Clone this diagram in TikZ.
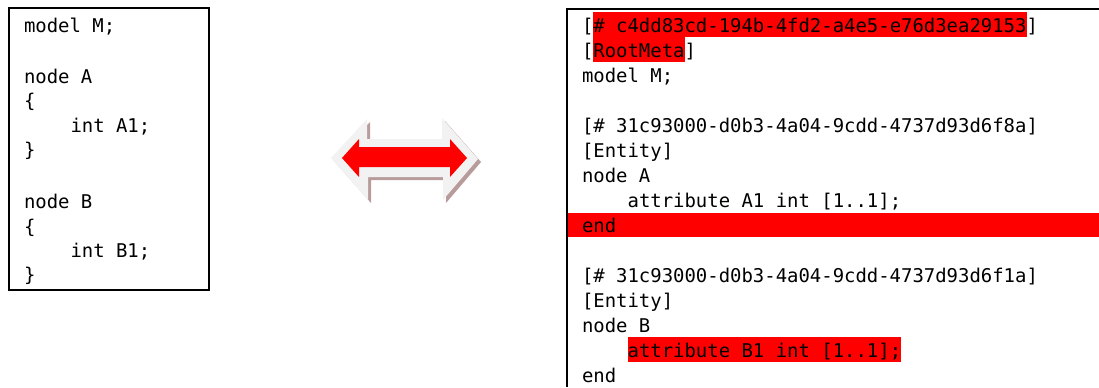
\documentclass[tikz,border=0pt]{standalone}
\usepackage{fontspec}
\newfontfamily\codefont{DejaVu Sans Mono}
\definecolor{hlred}{RGB}{255,0,0}
\definecolor{bevel}{RGB}{242,242,242}
\definecolor{shadowc}{RGB}{184,156,156}
\tikzset{
  code/.style={anchor=base west, inner sep=0pt, outer sep=0pt, font=\codefont\fontsize{14.2pt}{18pt}\selectfont},
  hl/.style={code, fill=hlred, text height=15.3pt, text depth=3.75pt},
  frame/.style={line width=1.5pt, draw=black}
}
\begin{document}
\begin{tikzpicture}[x=0.75pt, y=-0.75pt]
\useasboundingbox (0,0) rectangle (1099,387);
% ---------- left box ----------
\draw[frame] (9,8) rectangle (209,290);
\node[code] (l0) at (24,32) {model M;};
\node[code] (l2) at (24,83) {node A};
\node[code] (l3) at (24,107.5) {\{};
\node[code] (l4) at (70.5,132) {int A1;};
\node[code] (l5) at (24,156.5) {\}};
\node[code] (l7) at (24,208.5) {node B};
\node[code] (l8) at (24,233) {\{};
\node[code] (l9) at (70.5,257) {int B1;};
\node[code] (l10) at (24,281.5) {\}};
% ---------- double arrow ----------
\fill[shadowc] (334,161) -- (370,122) -- (370,142) -- (445,142) -- (445,121) -- (481,162)
  -- (446,203) -- (446,180) -- (371,180) -- (371,203) -- cycle;
\fill[bevel] (331,158) -- (367,119) -- (367,139) -- (442,139) -- (442,118) -- (478,159)
  -- (443,200) -- (443,177) -- (368,177) -- (368,200) -- cycle;
\fill[hlred] (342,158) -- (359,139) -- (359,147) -- (450,147) -- (450,139) -- (467,158)
  -- (450,177) -- (450,167) -- (359,167) -- (359,177) -- cycle;
% ---------- right box ----------
\fill[hlred] (568,213) rectangle (1099,237);
\draw[frame] (1099,9) -- (567,9) -- (567,387);
\node[code] (r0a) at (582,32) {[};
\node[hl] (r0b) at (r0a.base east) {\# c4dd83cd-194b-4fd2-a4e5-e76d3ea29153};
\node[code] (r0c) at (r0b.base east) {]};
\node[code] (r1a) at (582,57) {[};
\node[hl] (r1b) at (r1a.base east) {RootMeta};
\node[code] (r1c) at (r1b.base east) {]};
\node[code] (r2) at (582,82) {model M;};
\node[code] (r4) at (582,132) {[\# 31c93000-d0b3-4a04-9cdd-4737d93d6f8a]};
\node[code] (r5) at (582,157) {[Entity]};
\node[code] (r6) at (582,182) {node A};
\node[code] (r7) at (627.6,207) {attribute A1 int [1..1];};
\node[code] (r8) at (582,232) {end};
\node[code] (r10) at (582,282) {[\# 31c93000-d0b3-4a04-9cdd-4737d93d6f1a]};
\node[code] (r11) at (582,307) {[Entity]};
\node[code] (r12) at (582,332) {node B};
\node[hl] (r13) at (627.6,357) {attribute B1 int [1..1];};
\node[code] (r14) at (582,382) {end};
\end{tikzpicture}
\end{document}
